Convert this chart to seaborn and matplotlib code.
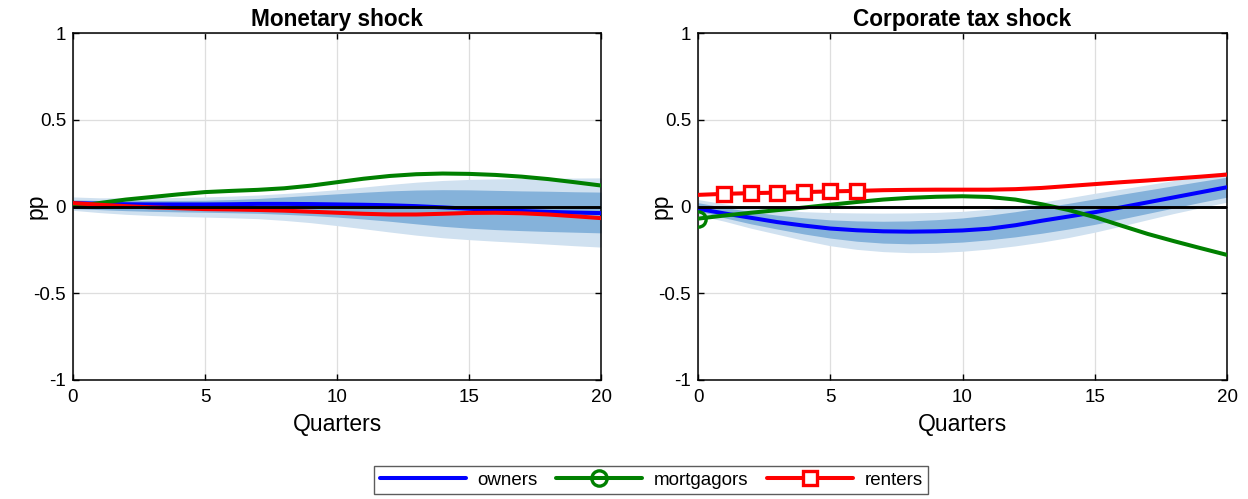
import numpy as np
import pandas as pd
import matplotlib
matplotlib.use("Agg")
import matplotlib.pyplot as plt
from matplotlib.lines import Line2D
import seaborn as sns

sns.set_theme(style="white")
plt.rcParams["font.family"] = ["Liberation Sans", "DejaVu Sans"]
plt.rcParams["axes.unicode_minus"] = False
for key in ("text.color", "axes.labelcolor", "xtick.color", "ytick.color"):
    plt.rcParams[key] = "black"

quarters = list(range(21))

# Monetary shock: impulse responses (pp)
mon_owners = [0.02, 0.016, 0.013, 0.012, 0.012, 0.012, 0.013, 0.015, 0.015, 0.014, 0.012,
              0.01, 0.007, 0.002, -0.005, -0.013, -0.02, -0.026, -0.031, -0.035, -0.038]
mon_mortgagors = [0.0, 0.02, 0.04, 0.055, 0.07, 0.083, 0.09, 0.096, 0.105, 0.12, 0.14,
                  0.16, 0.176, 0.186, 0.19, 0.188, 0.182, 0.172, 0.158, 0.14, 0.121]
mon_renters = [0.02, 0.01, 0.002, -0.005, -0.01, -0.015, -0.017, -0.02, -0.024, -0.03, -0.036,
               -0.042, -0.046, -0.046, -0.042, -0.037, -0.036, -0.039, -0.046, -0.056, -0.067]
mon_outer_hi = [0.055, 0.05, 0.05, 0.05, 0.052, 0.055, 0.06, 0.066, 0.075, 0.085, 0.097,
                0.112, 0.127, 0.14, 0.15, 0.156, 0.159, 0.161, 0.163, 0.164, 0.165]
mon_inner_hi = [0.038, 0.035, 0.035, 0.035, 0.035, 0.036, 0.04, 0.046, 0.055, 0.064, 0.073,
                0.082, 0.09, 0.095, 0.097, 0.096, 0.093, 0.09, 0.088, 0.085, 0.083]
mon_inner_lo = [-0.012, -0.018, -0.024, -0.028, -0.031, -0.033, -0.036, -0.039, -0.045, -0.052, -0.061,
                -0.072, -0.085, -0.1, -0.114, -0.125, -0.133, -0.139, -0.144, -0.148, -0.152]
mon_outer_lo = [-0.022, -0.035, -0.045, -0.052, -0.057, -0.061, -0.065, -0.07, -0.08, -0.093, -0.11,
                -0.128, -0.147, -0.165, -0.18, -0.191, -0.2, -0.208, -0.217, -0.226, -0.234]

# Corporate tax shock: impulse responses (pp)
tax_owners = [-0.013, -0.04, -0.065, -0.09, -0.11, -0.127, -0.137, -0.143, -0.145, -0.143, -0.138,
              -0.128, -0.108, -0.082, -0.058, -0.033, -0.005, 0.024, 0.053, 0.082, 0.111]
tax_mortgagors = [-0.07, -0.052, -0.036, -0.021, -0.006, 0.01, 0.026, 0.04, 0.05, 0.056, 0.059,
                  0.055, 0.04, 0.013, -0.02, -0.061, -0.11, -0.158, -0.2, -0.24, -0.279]
tax_renters = [0.067, 0.073, 0.077, 0.08, 0.083, 0.087, 0.09, 0.094, 0.096, 0.097, 0.097,
               0.097, 0.1, 0.107, 0.118, 0.129, 0.14, 0.15, 0.161, 0.172, 0.184]
tax_outer_hi = [0.04, 0.015, -0.005, -0.02, -0.03, -0.035, -0.037, -0.038, -0.037, -0.034, -0.028,
                -0.016, 0.002, 0.025, 0.05, 0.076, 0.1, 0.125, 0.15, 0.176, 0.203]
tax_inner_hi = [0.022, -0.005, -0.03, -0.05, -0.065, -0.077, -0.083, -0.085, -0.083, -0.076, -0.066,
                -0.05, -0.03, -0.006, 0.018, 0.044, 0.07, 0.095, 0.12, 0.145, 0.169]
tax_inner_lo = [-0.025, -0.065, -0.1, -0.13, -0.158, -0.182, -0.2, -0.211, -0.215, -0.212, -0.205,
                -0.192, -0.175, -0.154, -0.13, -0.103, -0.072, -0.04, -0.008, 0.024, 0.054]
tax_outer_lo = [-0.05, -0.085, -0.125, -0.16, -0.195, -0.226, -0.247, -0.26, -0.266, -0.265, -0.258,
                -0.245, -0.227, -0.205, -0.179, -0.148, -0.113, -0.076, -0.04, -0.007, 0.025]

panel_titles = ["Monetary shock", "Corporate tax shock"]
series_names = ["owners", "mortgagors", "renters"]
yticks = [-1, -0.5, 0, 0.5, 1]
ytick_labels = ["-1", "-0.5", "0", "0.5", "1"]
xticks = [0, 5, 10, 15, 20]

BLUE, GREEN, RED = "#0000ff", "#008000", "#ff0000"
LIGHT_BAND, DARK_BAND = "#d0e1f0", "#85b2da"
LW = 2.9

fig = plt.figure(figsize=(12.48, 4.99), dpi=100)
W, H = 1248, 499
ax1 = fig.add_axes([73 / W, 119 / H, 528 / W, 347 / H])
ax2 = fig.add_axes([698 / W, 119 / H, 529 / W, 347 / H])

panels = [
    (ax1, mon_owners, mon_mortgagors, mon_renters,
     mon_outer_lo, mon_outer_hi, mon_inner_lo, mon_inner_hi, None, None),
    (ax2, tax_owners, tax_mortgagors, tax_renters,
     tax_outer_lo, tax_outer_hi, tax_inner_lo, tax_inner_hi, [0], [1, 2, 3, 4, 5, 6]),
]

for i, (ax, own, mort, rent, olo, ohi, ilo, ihi, mort_marks, rent_marks) in enumerate(panels):
    ax.fill_between(quarters, olo, ohi, color=LIGHT_BAND, lw=0, zorder=1)
    ax.fill_between(quarters, ilo, ihi, color=DARK_BAND, lw=0, zorder=1.1)

    df = pd.DataFrame({"q": quarters, "owners": own, "mortgagors": mort, "renters": rent})
    sns.lineplot(data=df, x="q", y="owners", ax=ax, color=BLUE, lw=LW, zorder=3)
    if mort_marks is None:
        sns.lineplot(data=df, x="q", y="mortgagors", ax=ax, color=GREEN, lw=LW, zorder=3)
    else:
        sns.lineplot(data=df, x="q", y="mortgagors", ax=ax, color=GREEN, lw=LW, zorder=3,
                     marker="o", markevery=mort_marks, markersize=11,
                     markerfacecolor="none", markeredgecolor=GREEN, markeredgewidth=2.4)
    if rent_marks is None:
        sns.lineplot(data=df, x="q", y="renters", ax=ax, color=RED, lw=LW, zorder=3)
    else:
        sns.lineplot(data=df, x="q", y="renters", ax=ax, color=RED, lw=LW, zorder=3,
                     marker="s", markevery=rent_marks, markersize=10.5,
                     markerfacecolor="white", markeredgecolor=RED, markeredgewidth=2.4)

    ax.axhline(0, color="black", lw=2.1, zorder=4)

    ax.set_xlim(0, 20)
    ax.set_ylim(-1, 1)
    ax.set_xticks(xticks)
    ax.set_xticklabels([str(t) for t in xticks])
    ax.set_yticks(yticks)
    ax.set_yticklabels(ytick_labels)
    ax.grid(True, color="#dedede", lw=0.9, zorder=0)
    ax.set_axisbelow(True)
    ax.tick_params(direction="in", length=4, width=1, labelsize=13.5,
                   top=True, right=True, bottom=True, left=True)
    ax.tick_params(axis="x", pad=6.5)
    ax.tick_params(axis="y", pad=5)
    for sp in ax.spines.values():
        sp.set_visible(True)
        sp.set_color("black")
        sp.set_linewidth(1.1)
    ax.set_title(panel_titles[i], fontsize=16.3, fontweight="bold", pad=5)
    ax.set_xlabel("Quarters", fontsize=16.5, labelpad=5)
    ax.set_ylabel("pp", fontsize=16.5)
    ax.yaxis.set_label_coords(-25 / 528, 0.5)
    if ax.get_legend() is not None:
        ax.get_legend().remove()

handles = [
    Line2D([], [], color=BLUE, lw=LW),
    Line2D([], [], color=GREEN, lw=LW, marker="o", markersize=11,
           markerfacecolor="none", markeredgecolor=GREEN, markeredgewidth=2.4),
    Line2D([], [], color=RED, lw=LW, marker="s", markersize=10,
           markerfacecolor="white", markeredgecolor=RED, markeredgewidth=2.4),
]
leg = fig.legend(handles, series_names, loc="center", bbox_to_anchor=(651 / W, 1 - 480 / H),
                 ncol=3, fontsize=13.5, frameon=True, fancybox=False, handlelength=4.6,
                 columnspacing=1.0, handletextpad=0.6, borderpad=0.3)
leg.get_frame().set_edgecolor("#333333")
leg.get_frame().set_linewidth(1.0)

fig.savefig("out.png", dpi=100, facecolor="white")
